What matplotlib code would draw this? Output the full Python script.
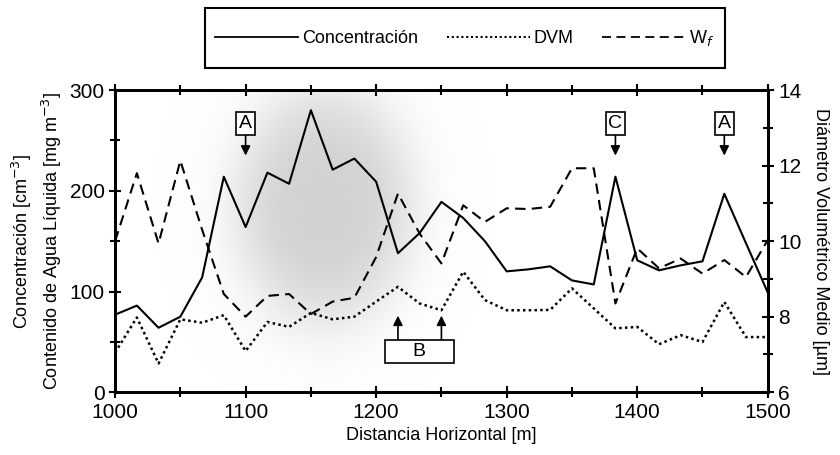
import numpy as np
import matplotlib.pyplot as plt
from matplotlib.lines import Line2D
from matplotlib.patches import Rectangle
from matplotlib.ticker import MultipleLocator

plt.rcParams['font.family'] = ['Liberation Sans', 'DejaVu Sans']

# distancia horizontal [m]
distancia = [1000, 1016.7, 1033.3, 1050, 1066.7, 1083.3, 1100, 1116.7, 1133.3, 1150,
             1166.7, 1183.3, 1200, 1216.7, 1233.3, 1250, 1266.7, 1283.3, 1300, 1316.7,
             1333.3, 1350, 1366.7, 1383.3, 1400, 1416.7, 1433.3, 1450, 1466.7, 1483.3, 1500]

# eje izquierdo
concentracion = [77, 86, 64, 75, 114, 214, 164, 218, 207, 280,
                 221, 232, 209, 138, 158, 189, 173, 150, 120, 122,
                 125, 111, 107, 214, 131, 121, 126, 130, 197, 148, 99]

# eje derecho [um]
dvm = [7.05, 7.98, 6.76, 7.93, 7.84, 8.04, 7.09, 7.86, 7.73, 8.1,
       7.93, 8.0, 8.4, 8.79, 8.35, 8.17, 9.19, 8.44, 8.17, 8.17,
       8.18, 8.75, 8.22, 7.69, 7.73, 7.27, 7.51, 7.33, 8.39, 7.46, 7.46]
wf = [10.0, 11.8, 9.94, 12.13, 10.3, 8.6, 8.0, 8.55, 8.6, 8.07,
      8.4, 8.5, 9.58, 11.26, 10.2, 9.41, 10.95, 10.51, 10.87, 10.85,
      10.91, 11.93, 11.93, 8.35, 9.81, 9.28, 9.54, 9.14, 9.5, 9.05, 10.03]

fig = plt.figure(figsize=(8.4, 4.55), dpi=100)
ax = fig.add_axes([0.137, 0.138, 0.777, 0.664])
ax2 = ax.twinx()

# zona sombreada (nube)
gx = np.linspace(1000, 1500, 400)
gy = np.linspace(0, 300, 300)
GX, GY = np.meshgrid(gx, gy)
r = ((GX - 1160) / 70.0) ** 2 + ((GY - 185) / 120.0) ** 2
dens = 0.14 * np.exp(-r ** 2) + 0.04 * np.exp(-r / 1.5)
rgba = np.zeros(GX.shape + (4,))
rgba[..., 3] = dens
ax.imshow(rgba, extent=(1000, 1500, 0, 300), origin='lower', aspect='auto', zorder=0)

ax.plot(distancia, concentracion, color='black', lw=1.5, zorder=3)
ax2.plot(distancia, dvm, color='black', lw=1.8, linestyle=(0, (1, 1.3)))
ax2.plot(distancia, wf, color='black', lw=1.5, linestyle=(0, (5, 3)))

ax.set_xlim(1000, 1500)
ax.set_ylim(0, 300)
ax2.set_ylim(6, 14)
ax.set_xticks([1000, 1100, 1200, 1300, 1400, 1500])
ax.xaxis.set_minor_locator(MultipleLocator(50))
ax.set_yticks([0, 100, 200, 300])
ax.yaxis.set_minor_locator(MultipleLocator(50))
ax2.set_yticks([6, 8, 10, 12, 14])
ax2.yaxis.set_minor_locator(MultipleLocator(1))

for a in (ax, ax2):
    for s in a.spines.values():
        s.set_linewidth(2)
ax.tick_params(which='both', direction='inout', top=True, width=1.5, labelsize=15)
ax.tick_params(which='major', length=8)
ax.tick_params(which='minor', length=7)
ax2.tick_params(which='both', direction='inout', width=1.5, labelsize=15)
ax2.tick_params(which='major', length=8)
ax2.tick_params(which='minor', length=7)

ax.set_xlabel('Distancia Horizontal [m]', fontsize=13, labelpad=4)
ax.set_ylabel('Concentración [cm$^{-3}$]\nContenido de Agua Líquida [mg m$^{-3}$]',
              fontsize=13, labelpad=4, linespacing=1.3)
ax2.set_ylabel('Diámetro Volumétrico Medio [µm]', fontsize=13, rotation=270, labelpad=20)

# marcas A, C, A y B
box = dict(boxstyle='square,pad=0.15', fc='white', ec='black', lw=1.2)
arr = dict(arrowstyle='-|>', color='black', lw=1.2, mutation_scale=14, shrinkA=0, shrinkB=0)
for lab, xm in [('A', 1100), ('C', 1383.3), ('A', 1466.7)]:
    ax.annotate(lab, xy=(xm, 235), xytext=(xm, 267), ha='center', va='center',
                fontsize=14, bbox=box, arrowprops=arr, zorder=5)

ax.add_patch(Rectangle((1206.5, 29), 53, 23, fc='white', ec='black', lw=1.2, zorder=5))
ax.text(1233, 40, 'B', ha='center', va='center', fontsize=14, zorder=6)
for xm in [1216.7, 1250]:
    ax.annotate('', xy=(xm, 76), xytext=(xm, 52), arrowprops=arr, zorder=5)

# leyenda
fig.patches.append(Rectangle((0.244, 0.851), 0.619, 0.131, transform=fig.transFigure,
                             fill=False, ec='black', lw=1.5))
handles = [Line2D([], [], color='black', lw=1.3),
           Line2D([], [], color='black', lw=1.5, linestyle=(0, (1, 1.3))),
           Line2D([], [], color='black', lw=1.3, linestyle=(0, (5, 3)))]
fig.legend(handles, ['Concentración', 'DVM', 'W$_{f}$'], loc='center',
           bbox_to_anchor=(0.553, 0.916), ncol=3, frameon=False, fontsize=13,
           handlelength=4.6, handletextpad=0.2, columnspacing=1.6)

fig.savefig('out.png', dpi=100)
